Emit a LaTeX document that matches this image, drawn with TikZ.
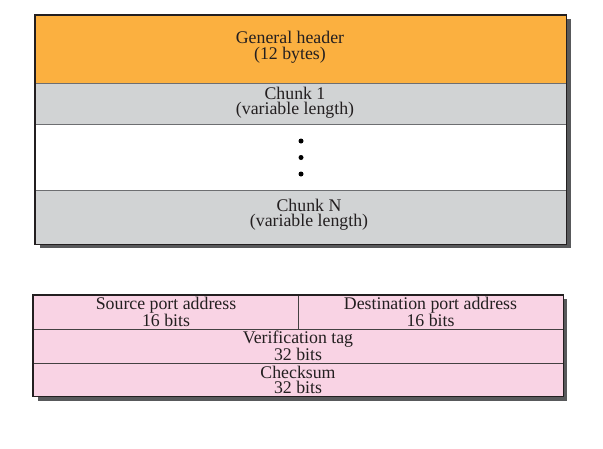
\documentclass[tikz,border=0pt]{standalone}
\usepackage{fontspec}
\setmainfont{Liberation Serif}
\definecolor{hdrc}{HTML}{FBB040}
\definecolor{chkc}{HTML}{D1D3D4}
\definecolor{pnkc}{HTML}{F9D3E4}
\definecolor{shdc}{HTML}{58595B}
\definecolor{edgec}{HTML}{231F20}
\definecolor{sepc}{HTML}{6D6E71}
\begin{document}
\begin{tikzpicture}[x=1pt,y=-1pt,
  field/.style={draw=sepc, line width=0.8pt, inner sep=0pt, anchor=north west},
  pfield/.style={draw=edgec!85, line width=0.8pt, inner sep=0pt, anchor=north west, fill=pnkc},
  outer/.style={draw=edgec, line width=1.3pt},
  lbl/.style={font=\fontsize{17.8}{15.5}\selectfont, align=center, inner sep=0pt, text=edgec},
  dotc/.style={circle, fill=black, inner sep=0pt, minimum size=5pt}]
\useasboundingbox (0,0) rectangle (603,448);
% shadows
\fill[shdc] (39.5,18.5) rectangle (570.5,247.5);
\fill[shdc] (37.5,298.5) rectangle (566.5,400.5);
% top packet
\node[field, fill=hdrc, minimum width=531pt, minimum height=68pt] (hdr) at (35,15) {};
\node[field, fill=chkc, minimum width=531pt, minimum height=41pt] (c1) at (35,83) {};
\node[field, fill=white, minimum width=531pt, minimum height=66pt] (gap) at (35,124) {};
\node[field, fill=chkc, minimum width=531pt, minimum height=54pt] (cn) at (35,190) {};
\draw[outer] (hdr.north west) rectangle (cn.south east);
\node[lbl] (thdr) at (290,47) {General header\\(12 bytes)};
\node[lbl] (tc1) at (295,102.5) {Chunk 1\\(variable length)};
\node[lbl] (tcn) at (309,214.5) {Chunk N\\(variable length)};
\node[dotc] (d1) at (301,141) {};
\node[dotc] (d2) at (301,157.5) {};
\node[dotc] (d3) at (301,174) {};
% bottom header
\node[pfield, minimum width=265pt, minimum height=34pt] (src) at (33,295) {};
\node[pfield, minimum width=265pt, minimum height=34pt] (dst) at (298,295) {};
\node[pfield, minimum width=530pt, minimum height=34pt] (ver) at (33,329) {};
\node[pfield, minimum width=530pt, minimum height=33pt] (cks) at (33,363) {};
\draw[outer] (src.north west) rectangle (cks.south east);
\node[lbl] (tsrc) at (166,311.5) {Source port address\\16 bits};
\node[lbl] (tdst) at (430.5,311.5) {Destination port address\\16 bits};
\node[lbl] (tver) at (298,345.5) {Verification tag\\32 bits};
\node[lbl] (tcks) at (298,380) {Checksum\\32 bits};
\end{tikzpicture}
\end{document}
